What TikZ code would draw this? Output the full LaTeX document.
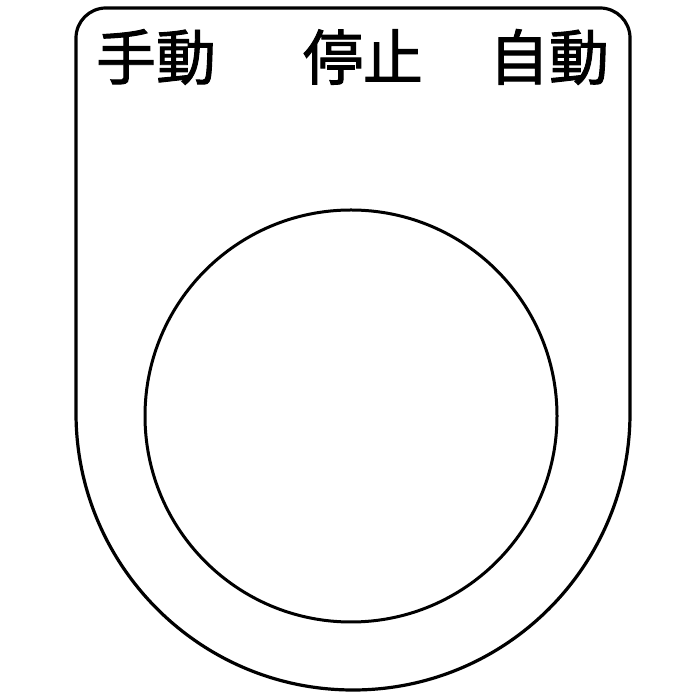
\documentclass[tikz,border=0pt]{standalone}
\usepackage{fontspec}
\newfontfamily\cjk[FakeBold=1.6]{Noto Sans CJK JP}
\begin{document}
\begin{tikzpicture}[x=1pt,y=1pt,
  plate/.style={draw=black,line width=3.2pt,line join=round},
  lbl/.style={font=\cjk\fontsize{60}{64}\selectfont,inner sep=0pt,anchor=center}]
\useasboundingbox[fill=white] (0,0) rectangle (700,700);
\draw[plate] (76,287) -- (76,662) arc[start angle=180,end angle=90,radius=30] -- (600,692)
  arc[start angle=90,end angle=0,radius=30] -- (630,287)
  arc[start angle=0,end angle=-180,radius=277] -- cycle;
\node[plate,circle,minimum size=412pt,inner sep=0pt,line width=3pt] (hole) at (351,284) {};
\node[lbl] (manual) at (156,643) {手動};
\node[lbl] (stop) at (363,643) {停止};
\node[lbl] (auto) at (549,643) {自動};
\end{tikzpicture}
\end{document}
